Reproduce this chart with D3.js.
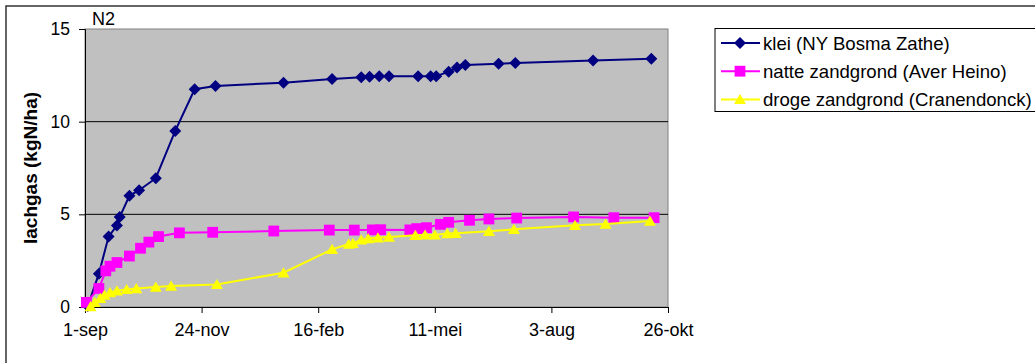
<!DOCTYPE html>
<html>
<head>
<meta charset="utf-8" />
<script src="https://d3js.org/d3.v7.min.js"></script>
<style>
  body { margin: 0; background: #fff; }
  svg { display: block; font-family: Arial, "Liberation Sans", sans-serif; }
</style>
</head>
<body>
<div id="visu"></div>
<script>
// afmetingen
const breedte = 1035;
const hoogte = 363;
const marge = {links: 85, rechts: 668, boven: 29, onder: 307};

// tijd-as
const asDatums = ["2006-09-01", "2006-11-24", "2007-02-16", "2007-05-11", "2007-08-03", "2007-10-26"];
const asLabels = ["1-sep", "24-nov", "16-feb", "11-mei", "3-aug", "26-okt"];
const yTicks = [0, 5, 10, 15];

// klei (NY Bosma Zathe)
const kleiDatum = ["2006-09-03", "2006-09-11", "2006-09-18", "2006-09-24", "2006-09-26", "2006-10-03",
  "2006-10-10", "2006-10-22", "2006-11-05", "2006-11-19", "2006-12-04", "2007-01-22", "2007-02-26",
  "2007-03-19", "2007-03-25", "2007-04-01", "2007-04-08", "2007-04-29", "2007-05-08", "2007-05-12",
  "2007-05-21", "2007-05-27", "2007-06-02", "2007-06-26", "2007-07-08", "2007-09-02", "2007-10-14"];
const kleiWaarde = [0.05, 1.8, 3.8, 4.4, 4.85, 6.0, 6.3, 6.95, 9.5, 11.75, 11.93, 12.1, 12.3,
  12.4, 12.42, 12.45, 12.45, 12.45, 12.45, 12.45, 12.7, 12.92, 13.06, 13.13, 13.17, 13.3, 13.4];

// natte zandgrond (Aver Heino)
const natDatum = ["2006-09-02", "2006-09-11", "2006-09-16", "2006-09-19", "2006-09-24", "2006-10-03",
  "2006-10-11", "2006-10-17", "2006-10-24", "2006-11-08", "2006-12-02", "2007-01-15", "2007-02-24",
  "2007-03-14", "2007-03-27", "2007-04-02", "2007-04-23", "2007-04-28", "2007-05-05", "2007-05-15",
  "2007-05-21", "2007-06-05", "2007-06-19", "2007-07-09", "2007-08-19", "2007-09-17", "2007-10-16"];
const natWaarde = [0.25, 1.0, 1.95, 2.2, 2.4, 2.75, 3.17, 3.5, 3.8, 4.0, 4.03, 4.1, 4.15,
  4.15, 4.16, 4.17, 4.16, 4.23, 4.28, 4.46, 4.57, 4.68, 4.75, 4.8, 4.86, 4.82, 4.82];

// droge zandgrond (Cranendonck)
const droogDatum = ["2006-09-05", "2006-09-08", "2006-09-12", "2006-09-15", "2006-09-19", "2006-09-24",
  "2006-10-01", "2006-10-08", "2006-10-22", "2006-11-02", "2006-12-05", "2007-01-22", "2007-02-26",
  "2007-03-10", "2007-03-13", "2007-03-19", "2007-03-24", "2007-03-31", "2007-04-08", "2007-04-27",
  "2007-05-04", "2007-05-11", "2007-05-20", "2007-05-26", "2007-06-19", "2007-07-07", "2007-08-20",
  "2007-09-11", "2007-10-13"];
const droogWaarde = [0.03, 0.25, 0.47, 0.65, 0.78, 0.88, 0.95, 1.0, 1.08, 1.13, 1.22, 1.85, 3.11,
  3.4, 3.44, 3.62, 3.69, 3.74, 3.78, 3.87, 3.89, 3.89, 3.96, 3.98, 4.09, 4.19, 4.41, 4.48, 4.64];

const parse = d3.timeParse("%Y-%m-%d");

const reeksen = [
  {naam: "klei (NY Bosma Zathe)", kleur: "#000080", vorm: "ruit", datum: kleiDatum, waarde: kleiWaarde},
  {naam: "natte zandgrond (Aver Heino)", kleur: "#FF00FF", vorm: "vierkant", datum: natDatum, waarde: natWaarde},
  {naam: "droge zandgrond (Cranendonck)", kleur: "#FFFF00", vorm: "driehoek", datum: droogDatum, waarde: droogWaarde}
];

const svg = d3.select("#visu").append("svg")
  .attr("width", breedte)
  .attr("height", hoogte);

// rand van de grafiek
svg.append("rect")
  .attr("x", 6).attr("y", 6)
  .attr("width", 1060).attr("height", 400)
  .attr("fill", "none").attr("stroke", "#333").attr("stroke-width", 1.5);

const x = d3.scaleTime()
  .domain([parse(asDatums[0]), parse(asDatums[asDatums.length - 1])])
  .range([marge.links, marge.rechts]);

const y = d3.scaleLinear()
  .domain([0, 15])
  .range([marge.onder, marge.boven]);

// plotgebied
svg.append("rect")
  .attr("x", marge.links).attr("y", marge.boven)
  .attr("width", marge.rechts - marge.links).attr("height", marge.onder - marge.boven)
  .attr("fill", "#C0C0C0").attr("stroke", "#808080").attr("stroke-width", 1);

// rasterlijnen
svg.append("g").selectAll("line")
  .data([5, 10])
  .join("line")
  .attr("x1", marge.links).attr("x2", marge.rechts)
  .attr("y1", d => y(d)).attr("y2", d => y(d))
  .attr("stroke", "#000").attr("stroke-width", 1);

// assen
const xAs = d3.axisBottom(x)
  .tickValues(asDatums.map(parse))
  .tickFormat((d, i) => asLabels[i])
  .tickSize(6)
  .tickPadding(10);

svg.append("g")
  .attr("transform", `translate(0,${marge.onder})`)
  .call(xAs)
  .call(g => g.select(".domain").attr("stroke", "#000"))
  .call(g => g.selectAll("text").attr("font-size", 18).attr("fill", "#000")
    .attr("font-family", "Arial, 'Liberation Sans', sans-serif"));

const yAs = d3.axisLeft(y)
  .tickValues(yTicks)
  .tickSize(6)
  .tickPadding(9);

svg.append("g")
  .attr("transform", `translate(${marge.links},0)`)
  .call(yAs)
  .call(g => g.select(".domain").attr("stroke", "#000"))
  .call(g => g.selectAll("text").attr("font-size", 17.5).attr("fill", "#000")
    .attr("font-family", "Arial, 'Liberation Sans', sans-serif"));

svg.append("text")
  .attr("transform", `translate(37,${(marge.boven + marge.onder) / 2}) rotate(-90)`)
  .attr("text-anchor", "middle")
  .attr("font-size", 19).attr("font-weight", "bold")
  .text("lachgas (kgN/ha)");

svg.append("text")
  .attr("x", 92).attr("y", 25)
  .attr("font-size", 18)
  .text("N2");

// markers
function marker(vorm) {
  if (vorm === "ruit") return "M0,-6L6,0L0,6L-6,0Z";
  if (vorm === "vierkant") return "M-5.4,-5.4H5.4V5.4H-5.4Z";
  return "M0,-5.5L6,4.7H-6Z";
}

const lijn = d3.line()
  .x(d => x(d.datum))
  .y(d => y(d.waarde));

reeksen.forEach(r => {
  const punten = r.datum.map((d, i) => ({datum: parse(d), waarde: r.waarde[i]}));
  const g = svg.append("g");
  g.append("path")
    .datum(punten)
    .attr("d", lijn)
    .attr("fill", "none")
    .attr("stroke", r.kleur)
    .attr("stroke-width", 2);
  g.selectAll("path.m")
    .data(punten)
    .join("path")
    .attr("class", "m")
    .attr("transform", d => `translate(${x(d.datum)},${y(d.waarde)})`)
    .attr("d", marker(r.vorm))
    .attr("fill", r.kleur);
});

// legenda
const legenda = svg.append("g");
legenda.append("rect")
  .attr("x", 715).attr("y", 28.5)
  .attr("width", 340).attr("height", 83)
  .attr("fill", "#fff").attr("stroke", "#000").attr("stroke-width", 1);

reeksen.forEach((r, i) => {
  const ry = 43 + i * 28.2;
  legenda.append("line")
    .attr("x1", 721).attr("x2", 760)
    .attr("y1", ry).attr("y2", ry)
    .attr("stroke", r.kleur).attr("stroke-width", 2);
  legenda.append("path")
    .attr("transform", `translate(740,${ry})`)
    .attr("d", marker(r.vorm))
    .attr("fill", r.kleur);
  legenda.append("text")
    .attr("x", 763).attr("y", ry)
    .attr("dy", "0.35em")
    .attr("font-size", 18.6)
    .text(r.naam);
});
</script>
</body>
</html>
